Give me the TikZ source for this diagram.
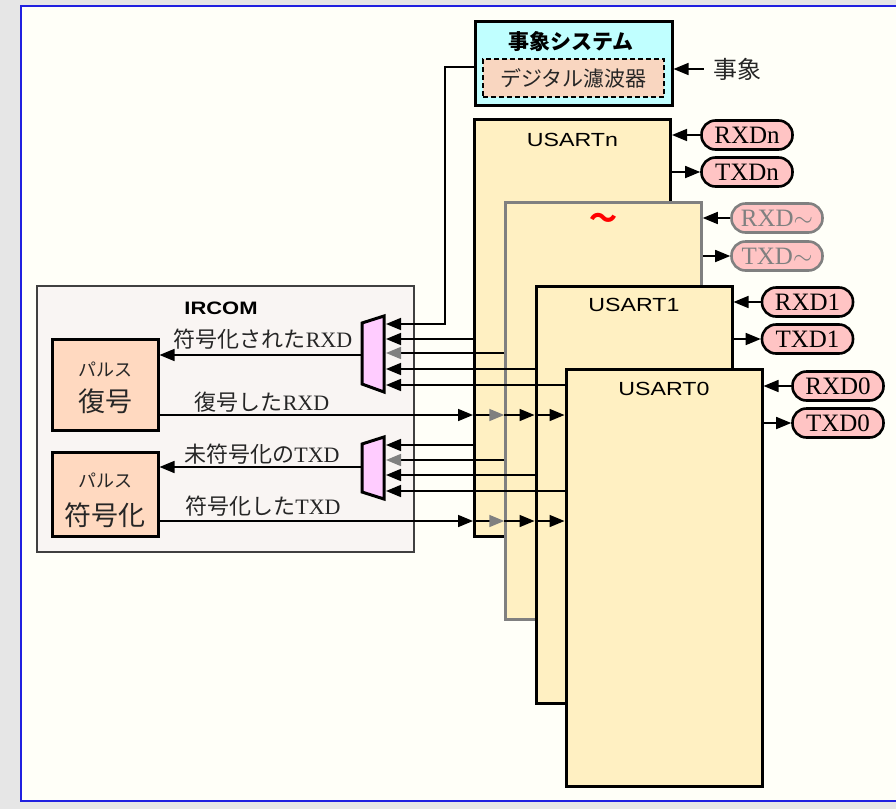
\documentclass[tikz,border=0pt]{standalone}
\usepackage{fontspec}
\setmainfont{Liberation Serif}
\newfontfamily\cjk{Noto Sans CJK JP}
\newfontfamily\uisans[FakeStretch=1.22]{Liberation Sans}
\usetikzlibrary{arrows.meta}

\definecolor{pagegray}{HTML}{E6E6E6}
\definecolor{panel}{HTML}{FFFFF8}
\definecolor{edgeblue}{HTML}{2020E0}
\definecolor{usartfill}{HTML}{FFF0C2}
\definecolor{ircomfill}{HTML}{F9F5F3}
\definecolor{pulsefill}{HTML}{FFD9C0}
\definecolor{evsysfill}{HTML}{C0FFFF}
\definecolor{filterfill}{HTML}{F9D6C0}
\definecolor{muxfill}{HTML}{FFCCFF}
\definecolor{pinfill}{HTML}{FFC4C4}
\definecolor{arrgray}{HTML}{808080}

\begin{document}
\begin{tikzpicture}[x=1pt, y=-1pt,
    usart/.style={draw, line width=3pt, fill=usartfill, minimum width=196pt, minimum height=417pt, inner sep=0pt},
    pin/.style={draw, line width=2.6pt, fill=pinfill, rounded corners=14pt, minimum width=91pt, minimum height=29pt, inner sep=0pt, font=\fontsize{25}{28}\selectfont},
    pulse/.style={draw, line width=3pt, fill=pulsefill, minimum width=106pt, inner sep=0pt},
    mux/.style={draw, line width=3pt, fill=muxfill},
    lbl/.style={inner sep=0pt, text=black!85, font=\fontsize{22}{26}\selectfont},
    arr/.style={line width=1.6pt, -{Triangle[length=15pt,width=12pt]}},
    garr/.style={line width=1.6pt, -{Triangle[length=15pt,width=12pt,color=arrgray]}}]
    \useasboundingbox (0,0) rectangle (896,809);
    \fill[pagegray] (0,0) rectangle (896,809);
    \filldraw[fill=panel, draw=edgeblue, line width=2pt] (21,6) rectangle (910,801);

    % event system
    \node[draw, line width=3pt, fill=evsysfill, minimum width=197pt, minimum height=84pt, inner sep=0pt] (evsys) at (573.5,63) {};
    \node[inner sep=0pt, font=\cjk\bfseries\fontsize{21}{24}\selectfont] (evtitle) at (571,42) {事象システム};
    \node[draw, dash pattern=on 5pt off 3pt, line width=1.6pt, fill=filterfill, minimum width=181pt, minimum height=38pt, inner sep=0pt, text=black!85, font=\cjk\fontsize{21}{24}\selectfont] (evfilt) at (573.5,78) {デジタル濾波器};
    \node[lbl, font=\cjk\fontsize{24}{28}\selectfont] (evin) at (737,69) {事象};
    \draw[arr] ([xshift=-9pt]evin.west) -- (evin -| evsys.east);

    % USART stack, back to front
    \node[usart] (usartn) at (572.5,328) {};
    \node[usart, draw=arrgray, line width=2.5pt] (tbox) at (603.5,411) {};
    \node[usart] (usart1) at (634,494.5) {};
    \node[usart] (usart0) at (664,577.5) {};
    \node[inner sep=0pt, font=\uisans\fontsize{19}{22}\selectfont] (ln) at ([yshift=-22pt]usartn.north) {USARTn};
    \node[inner sep=0pt, red, font=\cjk\bfseries\fontsize{28}{30}\selectfont] (lt) at ([yshift=-20pt]tbox.north) {～};
    \node[inner sep=0pt, font=\uisans\fontsize{19}{22}\selectfont] (l1) at ([yshift=-20pt]usart1.north) {USART1};
    \node[inner sep=0pt, font=\uisans\fontsize{19}{22}\selectfont] (l0) at ([yshift=-21pt]usart0.north) {USART0};

    % pins
    \node[pin] (rxdn) at (747,135) {RXDn};
    \node[pin] (txdn) at (747,172) {TXDn};
    \node[pin, draw=arrgray, text=arrgray] (rxdt) at (777,218) {RXD$\sim$};
    \node[pin, draw=arrgray, text=arrgray] (txdt) at (777,256) {TXD$\sim$};
    \node[pin] (rxd1) at (807.5,302) {RXD1};
    \node[pin] (txd1) at (807.5,339) {TXD1};
    \node[pin] (rxd0) at (838,386) {RXD0};
    \node[pin] (txd0) at (838,423) {TXD0};
    \draw[arr] (rxdn) -- (rxdn -| usartn.east);
    \draw[arr] (txdn -| usartn.east) -- (txdn);
    \draw[arr] (rxdt) -- (rxdt -| tbox.east);
    \draw[arr] (txdt -| tbox.east) -- (txdt);
    \draw[arr] (rxd1) -- (rxd1 -| usart1.east);
    \draw[arr] (txd1 -| usart1.east) -- (txd1);
    \draw[arr] (rxd0) -- (rxd0 -| usart0.east);
    \draw[arr] (txd0 -| usart0.east) -- (txd0);

    % IRCOM
    \node[draw=black!75, line width=1.4pt, fill=ircomfill, minimum width=377pt, minimum height=266pt, inner sep=0pt] (ircom) at (225.5,419) {};
    \node[inner sep=0pt, font=\uisans\bfseries\fontsize{18}{22}\selectfont] (irlbl) at (221,308) {IRCOM};
    \node[pulse, minimum height=91pt] (pdec) at (105,384.5) {};
    \node[inner sep=0pt, text=black!85, font=\cjk\fontsize{18}{20}\selectfont] (pdeck) at (105,369) {パルス};
    \node[inner sep=0pt, text=black!85, font=\cjk\fontsize{27}{30}\selectfont] (pdecn) at (105,401) {復号};
    \node[pulse, minimum height=84pt] (penc) at (105,494) {};
    \node[inner sep=0pt, text=black!85, font=\cjk\fontsize{18}{20}\selectfont] (penck) at (105,480) {パルス};
    \node[inner sep=0pt, text=black!85, font=\cjk\fontsize{27}{30}\selectfont] (pencn) at (105,515) {符号化};

    % multiplexers
    \filldraw[mux] (362,323) -- (384,316) -- (384,392) -- (362,384) -- cycle;
    \filldraw[mux] (362,444) -- (384,437) -- (384,499) -- (362,492) -- cycle;
    \coordinate (ina1) at (386,324);
    \coordinate (ina2) at (386,339);
    \coordinate (ina3) at (386,353);
    \coordinate (ina4) at (386,369);
    \coordinate (ina5) at (386,385);
    \coordinate (inb1) at (386,445);
    \coordinate (inb2) at (386,460);
    \coordinate (inb3) at (386,475);
    \coordinate (inb4) at (386,491);
    \coordinate (outa) at (362,355);
    \coordinate (outb) at (362,467);
    \coordinate (evturn) at (445,324);

    % into the muxes
    \draw[arr] ([yshift=-4pt]evsys.west) -| (evturn) -- (ina1);
    \draw[arr] (ina2 -| usartn.west) -- (ina2);
    \draw[garr] (ina3 -| tbox.west) -- (ina3);
    \draw[arr] (ina4 -| usart1.west) -- (ina4);
    \draw[arr] (ina5 -| usart0.west) -- (ina5);
    \draw[arr] (inb1 -| usartn.west) -- (inb1);
    \draw[garr] (inb2 -| tbox.west) -- (inb2);
    \draw[arr] (inb3 -| usart1.west) -- (inb3);
    \draw[arr] (inb4 -| usart0.west) -- (inb4);

    % mux to pulse blocks
    \draw[arr] (outa) -- (outa -| pdec.east);
    \draw[arr] (outb) -- (outb -| penc.east);
    \node[lbl] (lblra) at (263,339) {{\cjk 符号化された}RXD};
    \node[lbl] (lblta) at (262,454) {{\cjk 未符号化の}TXD};

    % pulse blocks out to every USART
    \coordinate (rxdd) at (158,415);
    \coordinate (txde) at (158,521);
    \draw[arr] (rxdd) -- (rxdd -| usartn.west);
    \draw[garr] (rxdd -| usartn.west) -- (rxdd -| tbox.west);
    \draw[arr] (rxdd -| tbox.west) -- (rxdd -| usart1.west);
    \draw[arr] (rxdd -| usart1.west) -- (rxdd -| usart0.west);
    \draw[arr] (txde) -- (txde -| usartn.west);
    \draw[garr] (txde -| usartn.west) -- (txde -| tbox.west);
    \draw[arr] (txde -| tbox.west) -- (txde -| usart1.west);
    \draw[arr] (txde -| usart1.west) -- (txde -| usart0.west);
    \node[lbl] (lblrd) at (262,402) {{\cjk 復号した}RXD};
    \node[lbl] (lbltd) at (263,506) {{\cjk 符号化した}TXD};
\end{tikzpicture}
\end{document}
